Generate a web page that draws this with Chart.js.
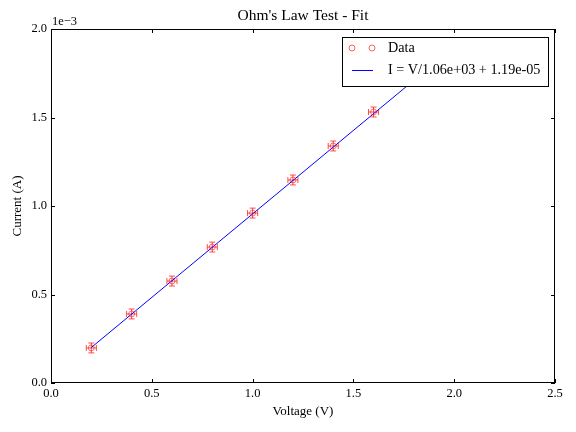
<!DOCTYPE html>
<html><head><meta charset="utf-8">
<script src="https://cdn.jsdelivr.net/npm/chart.js@4"></script>
<style>html,body{margin:0;padding:0;background:#fff}#w{width:576px;height:432px}</style>
</head><body><div id="w"><canvas id="c" width="576" height="432"></canvas></div>
<script>
const voltage = [0.2, 0.4, 0.6, 0.8, 1.0, 1.2, 1.4, 1.6];
const current = [0.198e-3, 0.390e-3, 0.576e-3, 0.768e-3, 0.960e-3, 1.147e-3, 1.339e-3, 1.531e-3];
const voltErr = [0.025, 0.025, 0.025, 0.025, 0.025, 0.025, 0.025, 0.025];
const currErr = [0.028e-3, 0.028e-3, 0.028e-3, 0.028e-3, 0.028e-3, 0.028e-3, 0.028e-3, 0.028e-3];
const fitR = 1.06e3, fitOffset = 1.19e-5;
const fitV = [0.2, 2.0];
const fitI = fitV.map(v => v / fitR + fitOffset);
const xTicks = [0, 0.5, 1.0, 1.5, 2.0, 2.5];
const yTicks = [0, 0.5e-3, 1.0e-3, 1.5e-3, 2.0e-3];
const FONT = '"Liberation Serif", "DejaVu Serif", serif';

const deco = {
  id: 'deco',
  beforeDatasetsDraw(chart) {
    const {ctx, scales: {x, y}} = chart;
    ctx.save();
    ctx.strokeStyle = 'rgba(255,0,0,0.7)';
    ctx.lineWidth = 1;
    for (let i = 0; i < voltage.length; i++) {
      const px = x.getPixelForValue(voltage[i]), py = y.getPixelForValue(current[i]);
      const x0 = x.getPixelForValue(voltage[i] - voltErr[i]), x1 = x.getPixelForValue(voltage[i] + voltErr[i]);
      const y0 = y.getPixelForValue(current[i] - currErr[i]), y1 = y.getPixelForValue(current[i] + currErr[i]);
      ctx.beginPath();
      ctx.moveTo(x0, py); ctx.lineTo(x1, py);
      ctx.moveTo(px, y0); ctx.lineTo(px, y1);
      ctx.moveTo(x0, py - 3); ctx.lineTo(x0, py + 3);
      ctx.moveTo(x1, py - 3); ctx.lineTo(x1, py + 3);
      ctx.moveTo(px - 3, y0); ctx.lineTo(px + 3, y0);
      ctx.moveTo(px - 3, y1); ctx.lineTo(px + 3, y1);
      ctx.stroke();
    }
    ctx.restore();
  },
  afterDraw(chart) {
    const {ctx, chartArea: a, scales: {x, y}} = chart;
    ctx.save();
    ctx.strokeStyle = '#000'; ctx.lineWidth = 1;
    ctx.strokeRect(a.left + 0.5, a.top + 0.5, a.right - a.left - 1, a.bottom - a.top - 1);
    ctx.beginPath();
    xTicks.forEach(v => {
      const p = Math.round(x.getPixelForValue(v)) + 0.5;
      ctx.moveTo(p, a.bottom); ctx.lineTo(p, a.bottom - 4);
      ctx.moveTo(p, a.top); ctx.lineTo(p, a.top + 4);
    });
    yTicks.forEach(v => {
      const p = Math.round(y.getPixelForValue(v)) + 0.5;
      ctx.moveTo(a.left, p); ctx.lineTo(a.left + 4, p);
      ctx.moveTo(a.right, p); ctx.lineTo(a.right - 4, p);
    });
    ctx.stroke();
    ctx.fillStyle = '#000';
    ctx.textAlign = 'center'; ctx.textBaseline = 'alphabetic';
    ctx.font = '15.5px ' + FONT;
    ctx.fillText("Ohm's Law Test - Fit", (a.left + a.right) / 2, 20);
    ctx.font = '13px ' + FONT;
    ctx.fillText('Voltage (V)', (a.left + a.right) / 2, 415);
    ctx.save();
    ctx.translate(21, (a.top + a.bottom) / 2);
    ctx.rotate(-Math.PI / 2);
    ctx.fillText('Current (A)', 0, 0);
    ctx.restore();
    ctx.textAlign = 'left';
    ctx.font = '12.5px ' + FONT;
    ctx.fillText('1e\u22123', a.left + 1, 25);
    const lx = 342, ly = 37, lw = 206, lh = 49;
    ctx.fillStyle = '#fff';
    ctx.fillRect(lx, ly, lw, lh);
    ctx.strokeStyle = '#000';
    ctx.strokeRect(lx + 0.5, ly + 0.5, lw, lh);
    ctx.strokeStyle = 'rgba(255,0,0,0.6)';
    [352, 372].forEach(cx => { ctx.beginPath(); ctx.arc(cx, 48, 3, 0, 2 * Math.PI); ctx.stroke(); });
    ctx.strokeStyle = '#0000ff';
    ctx.beginPath(); ctx.moveTo(352, 70.5); ctx.lineTo(373, 70.5); ctx.stroke();
    ctx.fillStyle = '#000';
    ctx.font = '14.2px ' + FONT;
    ctx.textBaseline = 'middle';
    ctx.fillText('Data', 388, 48);
    ctx.fillText('I = V/1.06e+03 + 1.19e-05', 388, 70);
    ctx.restore();
  }
};

new Chart(document.getElementById('c'), {
  type: 'scatter',
  data: {
    datasets: [
      {
        label: 'Data',
        data: voltage.map((v, i) => ({x: v, y: current[i]})),
        pointStyle: 'circle', pointRadius: 3, pointBorderWidth: 1,
        borderColor: 'rgba(255,0,0,0.55)', backgroundColor: 'rgba(0,0,0,0)', showLine: false
      },
      {
        label: 'fit',
        data: fitV.map((v, i) => ({x: v, y: fitI[i]})),
        showLine: true, borderColor: '#0000ff', borderWidth: 1, pointRadius: 0
      }
    ]
  },
  options: {
    responsive: false, animation: false, devicePixelRatio: 1,
    layout: {padding: {top: 29, right: 21, left: 0, bottom: 0}},
    plugins: {legend: {display: false}, title: {display: false}, tooltip: {enabled: false}},
    scales: {
      x: {
        type: 'linear', min: 0, max: 2.5,
        afterFit(s) { s.height = 49; },
        afterBuildTicks(s) { s.ticks = xTicks.map(v => ({value: v})); },
        grid: {display: false, drawTicks: false}, border: {display: false},
        ticks: {color: '#000', padding: 3, maxRotation: 0, font: {family: FONT, size: 12.5}, callback: v => v.toFixed(1)}
      },
      y: {
        type: 'linear', min: 0, max: 2.0e-3,
        afterFit(s) { s.width = 51; },
        afterBuildTicks(s) { s.ticks = yTicks.map(v => ({value: v})); },
        grid: {display: false, drawTicks: false}, border: {display: false},
        ticks: {color: '#000', padding: 4, font: {family: FONT, size: 12.5}, callback: v => (v * 1000).toFixed(1)}
      }
    }
  },
  plugins: [deco]
});
</script></body></html>
